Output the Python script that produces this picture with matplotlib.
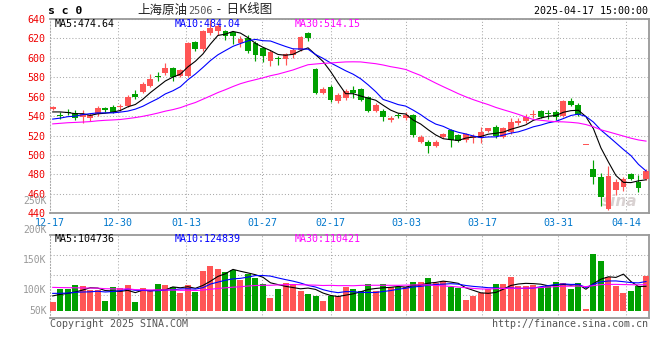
import numpy as np
import pandas as pd
import matplotlib
matplotlib.use("Agg")
import matplotlib.pyplot as plt

# ---------------- data ----------------
dates = ["12-17", "12-18", "12-19", "12-20", "12-23", "12-24", "12-25", "12-26", "12-27", "12-30", "12-31",
         "01-02", "01-03", "01-06", "01-07", "01-08", "01-09", "01-10", "01-13", "01-14", "01-15", "01-16",
         "01-17", "01-20", "01-21", "01-22", "01-23", "01-24", "01-27",
         "02-05", "02-06", "02-07", "02-10", "02-11", "02-12", "02-13", "02-14", "02-17", "02-18", "02-19",
         "02-20", "02-21", "02-24", "02-25", "02-26", "02-27", "02-28",
         "03-03", "03-04", "03-05", "03-06", "03-07", "03-10", "03-11", "03-12", "03-13", "03-14", "03-17",
         "03-18", "03-19", "03-20", "03-21", "03-24", "03-25", "03-26", "03-27", "03-28", "03-31",
         "04-01", "04-02", "04-03", "04-07", "04-08", "04-09", "04-10", "04-11", "04-14", "04-15", "04-16", "04-17"]

opens = [547.0, 541.0, 544.0, 543.0, 539.0, 538.5, 542.0, 548.0, 549.0, 549.5,
         550.0, 563.0, 565.0, 571.5, 581.0, 584.0, 590.0, 581.5, 581.5, 616.0,
         609.0, 626.0, 628.0, 628.0, 627.0, 615.0, 620.5, 615.5, 610.0, 597.0,
         600.0, 598.5, 602.6, 608.0, 625.8, 589.0, 564.0, 570.5, 556.0, 558.6,
         566.8, 567.5, 560.0, 545.0, 545.5, 536.0, 541.5, 538.6, 541.0, 513.7,
         513.7, 509.3, 518.8, 525.7, 520.5, 515.4, 517.5, 517.0, 525.0, 529.0,
         518.8, 524.0, 532.5, 535.0, 541.0, 545.0, 543.5, 544.0, 540.6, 556.0,
         551.0, 510.0, 486.0, 477.0, 444.0, 464.0, 467.3, 480.3, 472.4, 474.8]
highs = [550.5, 544.0, 547.0, 546.0, 546.0, 543.0, 550.0, 549.5, 551.0, 553.0,
         561.5, 567.0, 575.0, 583.0, 585.0, 595.0, 591.0, 589.0, 616.0, 617.0,
         628.5, 639.0, 636.0, 629.0, 628.0, 623.0, 624.0, 617.0, 611.0, 608.5,
         602.0, 605.0, 610.0, 623.0, 627.0, 590.0, 569.5, 572.0, 563.5, 568.0,
         571.0, 569.0, 561.0, 554.0, 547.0, 540.0, 543.0, 544.4, 542.0, 520.5,
         515.0, 515.5, 523.0, 526.3, 521.6, 523.0, 521.6, 529.0, 528.0, 531.0,
         529.0, 537.6, 537.6, 542.7, 546.0, 546.0, 546.6, 546.0, 557.0, 559.0,
         554.0, 510.0, 495.0, 481.0, 488.5, 475.8, 477.0, 481.0, 479.0, 486.0]
lows = [546.0, 537.0, 541.0, 536.0, 533.0, 535.0, 540.0, 544.0, 543.0, 545.0,
        549.0, 558.0, 564.0, 570.0, 576.0, 582.0, 576.0, 580.0, 580.0, 607.0,
        607.0, 624.0, 624.0, 618.0, 614.0, 611.0, 605.0, 597.0, 596.0, 591.5,
        593.0, 593.0, 600.0, 607.0, 617.0, 563.0, 563.0, 555.0, 554.0, 556.5,
        559.0, 556.0, 544.0, 544.0, 535.0, 534.0, 538.0, 536.0, 519.0, 512.0,
        502.5, 508.0, 517.0, 508.0, 513.7, 513.7, 512.0, 512.0, 524.0, 517.0,
        517.0, 522.0, 531.0, 532.5, 537.6, 538.0, 537.0, 536.5, 539.0, 550.0,
        540.6, 510.0, 470.0, 447.0, 443.0, 459.0, 463.0, 474.0, 462.0, 474.0]
closes = [549.7, 540.0, 543.0, 538.0, 542.0, 541.0, 548.0, 546.0, 544.0, 550.0,
          560.0, 560.0, 573.0, 578.0, 580.0, 590.0, 580.0, 588.0, 615.5, 609.0,
          627.5, 631.0, 632.5, 622.0, 623.0, 619.0, 607.5, 603.0, 602.0, 606.0,
          599.0, 603.5, 607.7, 621.0, 620.5, 564.0, 568.0, 556.5, 562.0, 565.4,
          563.5, 556.5, 545.0, 551.7, 539.3, 538.6, 540.5, 541.0, 520.5, 518.8,
          509.3, 513.7, 521.6, 515.4, 514.7, 521.6, 519.5, 524.0, 527.4, 519.5,
          527.4, 534.0, 535.0, 539.3, 542.7, 539.6, 542.7, 539.0, 556.0, 551.0,
          541.6, 510.0, 477.0, 457.0, 478.0, 472.4, 474.8, 475.8, 466.0, 483.5]
volumes = [38000, 95000, 96000, 111000, 107000, 88000, 88000, 42000, 103000, 97000,
           111000, 38000, 97000, 88000, 116000, 111000, 103000, 78000, 111000, 82000,
           173000, 194000, 182000, 169000, 176000, 133000, 158000, 143000, 114000, 56000,
           94000, 121000, 116000, 87000, 72000, 65000, 42000, 64000, 64000, 101000,
           94000, 85000, 116000, 85000, 116000, 104000, 104000, 101000, 124000, 124000,
           143000, 120000, 129000, 104000, 97000, 46000, 65000, 75000, 93000, 116000,
           116000, 146000, 107000, 107000, 110000, 104000, 111000, 123000, 120000, 94000,
           120000, 7000, 246000, 215000, 146000, 107000, 78000, 85000, 107000, 152000]

# closes / volumes before 12-17 (not drawn), estimated so that the moving-average
# lines start where they start in the picture
prior_closes = [522, 525, 528, 531, 527, 524, 530, 533, 536, 532, 529, 534, 531, 527, 530,
                533, 528, 531, 534, 526, 530, 528, 533, 526, 531, 540, 546, 544, 542]
prior_volumes = [120000, 108000, 125000, 131000, 104000, 98000, 117000, 122000, 110000, 106000,
                 128000, 119000, 101000, 113000, 124000, 109000, 115000, 102000, 118000, 110000,
                 92000, 85000, 78000, 95000, 80000, 62000, 75000, 80000, 65000]

tick_dates = ["12-17", "12-30", "01-13", "01-27", "02-17", "03-03", "03-17", "03-31", "04-14"]
price_ticks = [440, 460, 480, 500, 520, 540, 560, 580, 600, 620, 640]
vol_labels = ["250K", "200K", "150K", "100K", "50K"]
ma_windows = [5, 10, 30]
ma_price_text = ["MA5:474.64", "MA10:484.04", "MA30:514.15"]
ma_vol_text = ["MA5:104736", "MA10:124839", "MA30:110421"]
title_code = "s c 0"
title_name = "上海原油"
title_contract = "2506"
title_rest = " -  日K线图"
time_text = "2025-04-17 15:00:00"

# ---------------- style ----------------
RED = "#ff5555"
GREEN = "#00a000"
MA_COLORS = ["#000000", "#0000ff", "#ff00ff"]
GRID = "#aaaaaa"
FRAME = "#999999"
MONO = "DejaVu Sans Mono"
CJK = ["Noto Sans CJK SC", "DejaVu Sans"]
plt.rcParams["font.family"] = [MONO, "Noto Sans CJK SC"]

W, H = 660, 360
fig = plt.figure(figsize=(W / 100, H / 100), dpi=100)
fig.patch.set_facecolor("white")


def box(l, t, r, b):
    return [l / W, 1 - b / H, (r - l) / W, (b - t) / H]


def ftext(x, y, s, **kw):
    return fig.text(x / W, 1 - y / H, s, **kw)


ax = fig.add_axes(box(50, 19, 649, 213.3))
axv = fig.add_axes(box(50, 234.5, 649, 318.3))

n = len(closes)
x = np.arange(n)
o = np.array(opens); hi = np.array(highs); lo = np.array(lows); c = np.array(closes)
up = c >= o
cols = np.where(up, RED, GREEN)

step = 7.51
x0 = -2.7 / step
x1 = x0 + 599 / step
grid_x = [x0 + dates.index(d) * (x1 - x0) / (n - 1) for d in tick_dates]

all_c = pd.Series(prior_closes + closes)
all_v = pd.Series(prior_volumes + volumes)
k0 = len(prior_closes)

# ---------------- price panel ----------------
ax.vlines(x, lo, hi, colors=cols, lw=0.85, zorder=3)
body = c - o
body = np.where(np.abs(body) < 0.9, np.where(up, 0.9, -0.9), body)
ax.bar(x, body, bottom=o, width=0.78, color=cols, lw=0, zorder=3)
for w, col in zip(ma_windows, MA_COLORS):
    ma = all_c.rolling(w).mean().values[k0:]
    ax.plot(x, ma, color=col, lw=0.8, zorder=4)

ax.set_xlim(x0, x1)
ax.set_ylim(price_ticks[0], price_ticks[-1])
ax.set_yticks(price_ticks)
ax.set_yticklabels([str(p) for p in price_ticks], color="#ee0000", fontsize=7.2, family=MONO)
ax.set_xticks(grid_x)
ax.set_xticklabels(tick_dates, color="#0077cc", fontsize=7.2, family=MONO)
ax.tick_params(axis="x", length=0, pad=3.6)
ax.tick_params(axis="y", length=0, pad=3.2)
ax.grid(True, color=GRID, lw=0.75, linestyle=(0, (1, 2)))
ax.set_axisbelow(True)

# watermark
ax.text((620 - 50) / 599, (213.3 - 201) / 194.3, "sina", transform=ax.transAxes,
        fontsize=11, fontstyle="italic", fontweight="bold", color="#d9d2d2",
        ha="center", va="center", family="DejaVu Sans", zorder=1)

# ---------------- volume panel ----------------
axv.bar(x, volumes, width=0.8, color=cols, lw=0, zorder=3)
for w, col in zip(ma_windows, MA_COLORS):
    ma = all_v.rolling(w).mean().values[k0:]
    axv.plot(x, ma, color=col, lw=0.8, zorder=4)
kpx = 4330.0
vlo = -(318.3 - 310.7) * kpx
vhi = (310.7 - 234.5) * kpx
axv.set_xlim(x0, x1)
axv.set_ylim(vlo, vhi)
axv.set_xticks(grid_x)
axv.set_xticklabels([])
axv.set_yticks([])
axv.tick_params(length=0)
axv.grid(True, axis="x", color=GRID, lw=0.75, linestyle=(0, (1, 2)))
for f in (0.275, 0.513, 0.752):
    axv.axhline(vlo + f * (vhi - vlo), color=GRID, lw=0.75, linestyle=(0, (1, 2)), zorder=0)
axv.set_axisbelow(True)

for a in (ax, axv):
    for s in ("top", "right", "bottom"):
        a.spines[s].set_color(FRAME)
        a.spines[s].set_linewidth(1.3)
    a.spines["left"].set_color(GRID)
    a.spines["left"].set_linewidth(0.75)
    a.spines["left"].set_linestyle((0, (1, 2)))

# ---------------- texts ----------------
ftext(48, 11, title_code, fontsize=8.2, fontweight="bold", family=MONO, va="center", ha="left")
ftext(187, 10, title_name, fontsize=9, family=CJK, color="#222222", va="center", ha="right")
ftext(188, 10.5, title_contract, fontsize=7.4, family=MONO, color="#555555", va="center", ha="left")
ftext(214, 10, title_rest, fontsize=9, family=CJK, color="#222222", va="center", ha="left")
ftext(648, 11.5, time_text, fontsize=7.2, family=MONO, va="center", ha="right")

for xs, s, col in zip([55, 175, 295], ma_price_text, MA_COLORS):
    ftext(xs, 24, s, fontsize=7.2, family=MONO, color=col, va="center", ha="left")
for xs, s, col in zip([55, 175, 295], ma_vol_text, MA_COLORS):
    ftext(xs, 238.5, s, fontsize=7.2, family=MONO, color=col, va="center", ha="left")

for yy, s in zip([201, 230.5, 260, 290, 310.5], vol_labels):
    ftext(46.5, yy, s, fontsize=7.0, family=MONO, color="#999999", va="center", ha="right")

ftext(50, 324, "Copyright 2025 SINA.COM", fontsize=7.2, family=MONO, color="#555555",
      va="center", ha="left")
ftext(648, 324, "http://finance.sina.com.cn", fontsize=7.2, family=MONO, color="#555555",
      va="center", ha="right")

fig.savefig("out.png", dpi=100, facecolor="white")
